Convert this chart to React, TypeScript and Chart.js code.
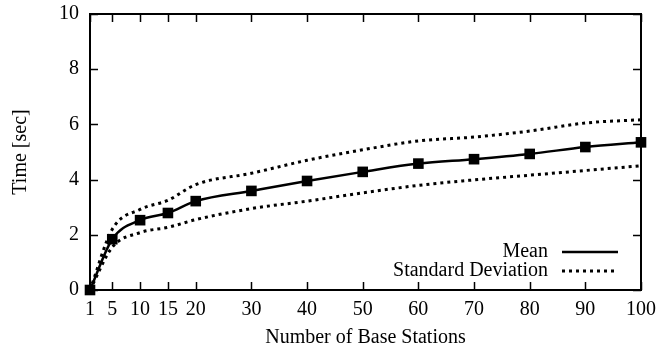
import React, { useEffect, useRef } from "react";
import { Chart, registerables } from "chart.js";

Chart.register(...registerables);

const stations = [1, 5, 10, 15, 20, 30, 40, 50, 60, 70, 80, 90, 100];
const meanTime = [0, 1.84, 2.53, 2.79, 3.22, 3.59, 3.95, 4.28, 4.58, 4.74, 4.93, 5.18, 5.35];
const stdUpper = [0, 2.2, 2.92, 3.25, 3.82, 4.23, 4.7, 5.08, 5.4, 5.54, 5.76, 6.05, 6.17];
const stdLower = [0, 1.55, 2.08, 2.27, 2.55, 2.95, 3.22, 3.52, 3.79, 3.99, 4.16, 4.33, 4.5];
const xTickValues = [1, 5, 10, 15, 20, 30, 40, 50, 60, 70, 80, 90, 100];
const yTickValues = [0, 2, 4, 6, 8, 10];

const FONT = "'Liberation Serif', 'DejaVu Serif', serif";
const FS = 20;

const framePlugin = {
  id: "gnuplotFrame",
  beforeDatasetsDraw(chart: any) {
    const { ctx, chartArea } = chart;
    const { left, right, top, bottom } = chartArea;
    const xs = chart.scales.x;
    const ys = chart.scales.y;
    const tl = 8;
    ctx.save();
    ctx.strokeStyle = "#000";
    ctx.lineWidth = 1.5;
    ctx.beginPath();
    xTickValues.forEach((v) => {
      const px = Math.round(xs.getPixelForValue(v)) + 0.5;
      ctx.moveTo(px, bottom);
      ctx.lineTo(px, bottom - tl);
      ctx.moveTo(px, top);
      ctx.lineTo(px, top + tl);
    });
    yTickValues.forEach((v) => {
      const py = Math.round(ys.getPixelForValue(v)) + 0.5;
      ctx.moveTo(left, py);
      ctx.lineTo(left + tl, py);
      ctx.moveTo(right, py);
      ctx.lineTo(right - tl, py);
    });
    ctx.stroke();
    ctx.lineWidth = 2;
    ctx.strokeRect(left, top, right - left, bottom - top);
    ctx.restore();
  },
  afterDatasetsDraw(chart: any) {
    const { ctx } = chart;
    const items = chart.data.datasets.filter((d: any) => !d.hideInLegend);
    const textRight = 548;
    const lineStart = 562;
    const lineEnd = 618;
    const y0 = 252;
    const step = 19;
    ctx.save();
    ctx.font = `${FS}px ${FONT}`;
    ctx.fillStyle = "#000";
    ctx.textAlign = "right";
    ctx.textBaseline = "middle";
    items.forEach((d: any, i: number) => {
      const y = y0 + i * step;
      ctx.fillText(d.label, textRight, y);
      ctx.beginPath();
      ctx.strokeStyle = d.borderColor;
      ctx.lineWidth = d.borderWidth;
      ctx.setLineDash(d.borderDash || []);
      ctx.lineCap = "butt";
      ctx.moveTo(lineStart, y);
      ctx.lineTo(lineEnd, y);
      ctx.stroke();
    });
    ctx.restore();
  },
};

export default function App() {
  const canvasRef = useRef<HTMLCanvasElement | null>(null);

  useEffect(() => {
    if (!canvasRef.current) return;
    const toPts = (arr: number[]) => stations.map((x, i) => ({ x, y: arr[i] }));
    const chart = new Chart(canvasRef.current, {
      type: "line",
      data: {
        datasets: [
          {
            label: "Mean",
            data: toPts(meanTime),
            borderColor: "#000",
            backgroundColor: "#000",
            borderWidth: 2.5,
            pointStyle: "rect",
            pointRadius: 7.5,
            pointBorderWidth: 0,
            cubicInterpolationMode: "monotone",
            clip: false,
            order: 0,
          },
          {
            label: "Standard Deviation",
            data: toPts(stdUpper),
            borderColor: "#000",
            borderWidth: 3,
            borderDash: [3, 4],
            pointRadius: 0,
            cubicInterpolationMode: "monotone",
            clip: false,
            order: 1,
          },
          {
            label: "Standard Deviation (lower)",
            hideInLegend: true,
            data: toPts(stdLower),
            borderColor: "#000",
            borderWidth: 3,
            borderDash: [3, 4],
            pointRadius: 0,
            cubicInterpolationMode: "monotone",
            clip: false,
            order: 1,
          } as any,
        ],
      },
      options: {
        animation: false,
        responsive: false,
        devicePixelRatio: 1,
        layout: { padding: { top: 14, right: 29, left: 0, bottom: 0 } },
        plugins: { legend: { display: false }, tooltip: { enabled: false } },
        scales: {
          x: {
            type: "linear",
            min: 1,
            max: 100,
            afterBuildTicks: (scale: any) => {
              scale.ticks = xTickValues.map((v) => ({ value: v }));
            },
            afterFit: (scale: any) => {
              scale.height = 62;
              scale.paddingLeft = 0;
              scale.paddingRight = 0;
              scale.paddingTop = 0;
              scale.paddingBottom = 0;
            },
            grid: { display: false, drawTicks: false },
            border: { display: false },
            ticks: {
              autoSkip: false,
              maxRotation: 0,
              padding: 8,
              color: "#000",
              font: { family: FONT, size: FS },
              callback: (v: any) => String(v),
            },
            title: {
              display: true,
              text: "Number of Base Stations",
              color: "#000",
              padding: { top: 0, bottom: 2 },
              font: { family: FONT, size: FS },
            },
          },
          y: {
            type: "linear",
            min: 0,
            max: 10,
            afterBuildTicks: (scale: any) => {
              scale.ticks = yTickValues.map((v) => ({ value: v }));
            },
            afterFit: (scale: any) => {
              scale.width = 90;
              scale.paddingLeft = 0;
              scale.paddingRight = 0;
              scale.paddingTop = 0;
              scale.paddingBottom = 0;
            },
            grid: { display: false, drawTicks: false },
            border: { display: false },
            ticks: {
              padding: 11,
              color: "#000",
              font: { family: FONT, size: FS },
            },
            title: {
              display: true,
              text: "Time [sec]",
              color: "#000",
              padding: { top: 9, bottom: 0 },
              font: { family: FONT, size: FS },
            },
          },
        },
      },
      plugins: [framePlugin],
    } as any);
    return () => chart.destroy();
  }, []);

  return (
    <div style={{ position: "absolute", left: 0, top: 0, width: 670, height: 352, background: "#fff" }}>
      <canvas ref={canvasRef} width={670} height={352} style={{ display: "block" }} />
    </div>
  );
}
